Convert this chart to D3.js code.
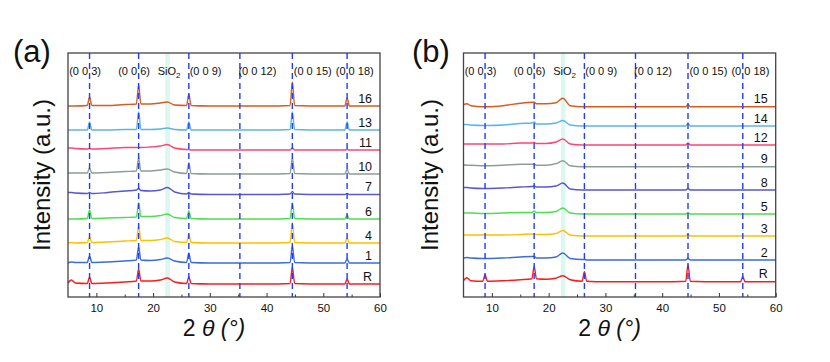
<!DOCTYPE html>
<html>
<head>
<meta charset="utf-8">
<script src="https://cdn.jsdelivr.net/npm/d3@7"></script>
<style>
  body { margin: 0; background: #fff; }
  svg { font-family: Arial, "Liberation Sans", sans-serif; }
</style>
</head>
<body>
<svg id="chart" width="830" height="362"></svg>
<script>
// 2theta sample positions
const twoTheta = [5, 5.6, 6.3, 8.4, 8.8, 9.2, 12, 15, 17.05, 17.45, 17.85, 19.5, 21.3, 22.5, 23.8,
  25.9, 26.3, 26.7, 30, 40, 44.15, 44.55, 44.95, 50, 53.8, 54.2, 54.6, 60];

// reflections (dashed lines) and their labels
const reflections = [8.8, 17.45, 26.3, 35.3, 44.55, 54.2];
const peakLabels = ["(0 0 3)", "(0 0 6)", "SiO2", "(0 0 9)", "(0 0 12)", "(0 0 15)", "(0 0 18)"];
const peakLabelPos = [5.2, 13.85, 20.8, 26.45, 35.05, 44.8, 52.2];
const sio2Band = [22.15, 22.95];

const xTicks = [10, 20, 30, 40, 50, 60];
const xMinorTicks = [15, 25, 35, 45, 55];

// panel (a)
const namesA = ["R", "1", "4", "6", "7", "10", "11", "13", "16"];
const offsetsA = [13, 34, 54, 78, 102.5, 123, 147, 167, 191];
const aR  = [1, 4, 1, 0.5, 7, 0.5, 1, 2, 3, 15, 3, 3, 4, 6, 2, 0.5, 7, 0.5, 0, 0, 0.5, 17, 0.5, 0, 0, 5, 0, 0];
const a1  = [0, 1, 0.5, 0.5, 7, 0.5, 1, 2, 3, 16, 3, 2.5, 3.5, 5, 2, 0.5, 10, 0.5, 0, 0, 0.5, 17, 0.5, 0, 0, 4, 0, 0];
const a4  = [0, 0.5, 0, 0.5, 6, 0.5, 1, 2, 2.5, 17, 2.5, 2.5, 3.5, 5, 1.5, 0.5, 9, 0.5, 0, 0, 0.5, 20, 0.5, 0, 0, 5, 0, 0];
const a6  = [0, 0, 0, 0.5, 9, 0.5, 1, 1.5, 2, 16, 2.5, 2.5, 3.5, 5, 1.5, 0.5, 8, 0.5, 0, 0, 0.5, 16, 0.5, 0, 0, 4, 0, 0];
const a7  = [2, 2, 1.5, 1, 2, 1, 2, 3.5, 4.5, 6, 4, 3.5, 4.5, 7, 2.5, 0.5, 2, 0.5, 0, 0, 0.5, 3, 0.5, 0, 0, 1, 0, 0];
const a10 = [1, 1, 1, 1, 6, 1, 1.5, 2.5, 3, 16, 3, 3, 4, 5, 2, 0.5, 11, 0.5, 0, 0, 0.5, 16, 0.5, 0, 0, 5, 0, 0];
const a11 = [2, 2, 1.5, 1, 1.5, 1, 1.5, 2.5, 2.5, 2.5, 2.5, 3, 4, 5.5, 2, 0.5, 0.5, 0, 0, 0, 0, 2, 0, 0, 0, 0.5, 0, 0];
const a13 = [0, 0, 0, 0, 8, 0, 0, 0.5, 0.5, 18, 0.5, 0.5, 1, 2, 0.5, 0, 8, 0, 0, 0, 0.5, 18, 0.5, 0, 0, 8, 0, 0];
const a16 = [0, 0, 0, 0.5, 9, 0.5, 0.5, 1.5, 2, 21, 2, 2, 3, 4, 1, 0.5, 12, 0.5, 0, 0, 0.5, 24, 0.5, 0, 0, 8, 0, 0];

// panel (b)
const namesB = ["R", "2", "3", "5", "8", "9", "12", "14", "15"];
const offsetsB = [15.3, 37, 61, 83, 107, 130.3, 152, 171, 190.3];
const bR  = [1, 4, 1, 0.5, 7, 0.5, 1, 2, 3, 15, 3, 2.5, 3.5, 6, 2, 0.5, 10, 0.5, 0, 0, 0.5, 17, 0.5, 0, 0, 5, 0, 0];
const b2  = [2, 2.5, 2, 1.5, 1.5, 1.5, 2, 3, 3.5, 3.5, 2, 2, 3, 7, 1.5, 0.5, 0.5, 0, 0, 0, 0, 1.5, 0, 0, 0, 0, 0, 0];
const b3  = [1, 1, 1, 1, 1, 1, 1, 1.5, 2, 2, 1.5, 1.5, 2.5, 5.5, 1, 0, 0, 0, 0, 0, 0, 2, 0, 0, 0, 0, 0, 0];
const b5  = [1, 1, 1, 0.5, 0.5, 0.5, 1, 1.5, 1.5, 3, 1.5, 1.5, 2.5, 6, 1, 0, 0, 0, 0, 0, 0, 1.5, 0, 0, 0, 0, 0, 0];
const b8  = [2.5, 2.5, 2, 1.5, 1.5, 1.5, 2, 3, 3.5, 4, 3, 3, 4, 7, 1, 0, 0, 0, 0, 0, 0, 1.5, 0, 0, 0, 0, 0, 0];
const b9  = [2, 1.5, 1.5, 1, 1, 1, 1.5, 2.5, 2.5, 2.5, 1.5, 1.5, 3, 6, 1, 0, 0, 0, 0, 0, 0, 1.5, 0, 0, 0, 0, 0, 0];
const b12 = [1, 1, 1, 1, 1, 1, 1, 2, 2, 2.5, 1.5, 1.5, 3, 6, 1, 0, 0, 0, 0, 0, 0, 2, 0, 0, 0, 0, 0, 0];
const b14 = [1.5, 1.5, 1, 0.5, 0.5, 0.5, 1, 2.5, 3, 4, 2, 2, 3, 5.5, 1, 0, 0, 0, 0, 0, 0, 3, 0, 0, 0, 0, 0, 0];
const b15 = [2, 3, 1, 0, 0, 0, 1, 3.5, 4.5, 4.5, 3, 3, 4, 8.5, 1, 0, 0, 0, 0, 0, 0, 2, 0, 0, 0, 0, 0, 0];

const colors = ["#ff1a1a", "#3a6be0", "#ffbf00", "#4ce04c", "#5656d6", "#8e9d94", "#ff4470", "#5ab4f0", "#dc5a1e"];

function drawPanel(svg, cfg) {
  const g = svg.append("g");
  const x = d3.scaleLinear().domain([5, 60]).range([cfg.left, cfg.right]);
  const y = d3.scaleLinear().domain([0, 244]).range([cfg.bottom, cfg.top]);

  // SiO2 band
  g.append("rect")
    .attr("x", x(sio2Band[0]))
    .attr("y", cfg.top)
    .attr("width", x(sio2Band[1]) - x(sio2Band[0]))
    .attr("height", cfg.bottom - cfg.top)
    .attr("fill", "#dcf6f0");

  const line = d3.line()
    .x((d, i) => x(twoTheta[i]))
    .curve(d3.curveMonotoneX);

  cfg.series.forEach((s, k) => {
    const off = cfg.offsets[k];
    g.append("path")
      .datum(s)
      .attr("fill", "none")
      .attr("stroke", colors[k])
      .attr("stroke-width", 1.4)
      .attr("d", line.y((d) => y(off + d)));

    g.append("text")
      .attr("x", x(58.6))
      .attr("y", y(off + 3.5))
      .attr("text-anchor", "end")
      .attr("font-size", "12.5px")
      .attr("fill", "#111")
      .text(cfg.names[k]);
  });

  // dashed reflection lines
  g.selectAll(".refl")
    .data(reflections)
    .enter()
    .append("line")
    .attr("x1", (d) => x(d))
    .attr("x2", (d) => x(d))
    .attr("y1", cfg.top)
    .attr("y2", cfg.bottom)
    .attr("stroke", "#1f3cff")
    .attr("stroke-width", 1.4)
    .attr("stroke-dasharray", "6,4");

  // peak labels
  peakLabels.forEach((lab, i) => {
    const t = g.append("text")
      .attr("x", x(peakLabelPos[i]))
      .attr("y", cfg.top + 22)
      .attr("font-size", "11px")
      .attr("fill", "#111");
    if (lab === "SiO2") {
      t.append("tspan").text("SiO");
      t.append("tspan").attr("font-size", "8px").attr("dy", 3).text("2");
    } else {
      t.text(lab);
    }
  });

  // x axis, ticks pointing inward
  const axis = g.append("g")
    .attr("transform", `translate(0, ${cfg.bottom})`)
    .call(d3.axisBottom(x).tickValues(xTicks).tickSize(-4).tickPadding(7).tickFormat(d3.format("d")));
  axis.select(".domain").remove();
  axis.selectAll("text").attr("font-size", "11.5px").attr("fill", "#111").attr("font-family", null);
  axis.selectAll("line").attr("stroke", "#333");

  const minor = g.append("g")
    .attr("transform", `translate(0, ${cfg.bottom})`)
    .call(d3.axisBottom(x).tickValues(xMinorTicks).tickSize(-2.5).tickFormat(""));
  minor.select(".domain").remove();
  minor.selectAll("line").attr("stroke", "#333");

  // frame
  g.append("rect")
    .attr("x", cfg.left)
    .attr("y", cfg.top)
    .attr("width", cfg.right - cfg.left)
    .attr("height", cfg.bottom - cfg.top)
    .attr("fill", "none")
    .attr("stroke", "#444")
    .attr("stroke-width", 1.3);

  // panel tag
  g.append("text")
    .attr("x", cfg.tagX)
    .attr("y", 62)
    .attr("font-size", "31px")
    .attr("fill", "#111")
    .text(cfg.tag);

  // y title
  g.append("text")
    .attr("transform", `translate(${cfg.yTitleX}, ${(cfg.top + cfg.bottom) / 2}) rotate(-90)`)
    .attr("text-anchor", "middle")
    .attr("font-size", "24px")
    .attr("fill", "#111")
    .text("Intensity (a.u.)");

  // x title
  const xt = g.append("text")
    .attr("x", (cfg.left + cfg.right) / 2 - 10)
    .attr("y", 336)
    .attr("text-anchor", "middle")
    .attr("font-size", "23px")
    .attr("fill", "#111");
  xt.append("tspan").text("2 ");
  xt.append("tspan").attr("font-style", "italic").text("θ (°)");
}

const svg = d3.select("#chart");

drawPanel(svg, {
  left: 68, right: 380, top: 53, bottom: 297,
  tag: "(a)", tagX: 13, yTitleX: 50,
  names: namesA, offsets: offsetsA,
  series: [aR, a1, a4, a6, a7, a10, a11, a13, a16]
});

drawPanel(svg, {
  left: 463.5, right: 775.7, top: 53, bottom: 297,
  tag: "(b)", tagX: 412, yTitleX: 438,
  names: namesB, offsets: offsetsB,
  series: [bR, b2, b3, b5, b8, b9, b12, b14, b15]
});
</script>
</body>
</html>
